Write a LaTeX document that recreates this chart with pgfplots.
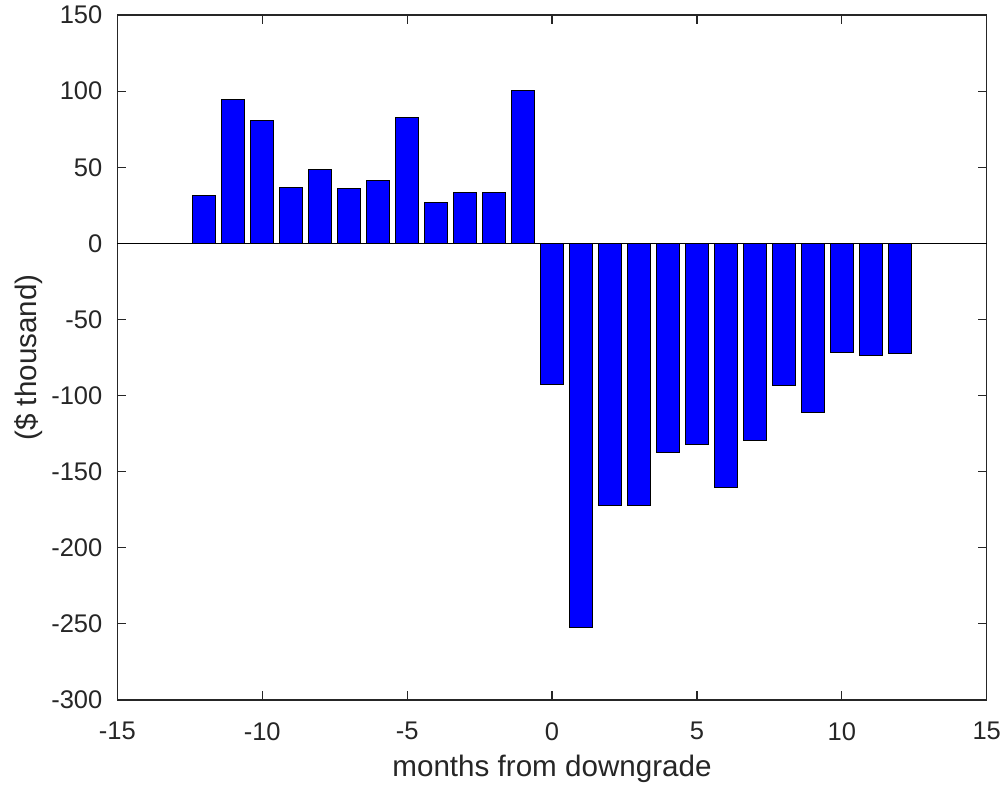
\documentclass[border=0pt]{standalone}
\usepackage{fontspec}
\setmainfont{Liberation Sans}
\usepackage{pgfplots}
\pgfplotsset{compat=1.18}
\definecolor{axgray}{RGB}{38,38,38}
\begin{document}
\fontsize{12.75}{15}\selectfont
\begin{tikzpicture}
\useasboundingbox (-58.65pt,-44pt) rectangle (444.35pt,350pt);
\begin{axis}[
  at={(0pt,0pt)}, anchor=south west,
  scale only axis,
  width=434.7pt, height=342.5pt,
  xmin=-15, xmax=15, ymin=-300, ymax=150,
  xtick={-15,-10,...,15},
  ytick={-300,-250,...,150},
  tick pos=both, tick align=inside,
  major tick length=4.5pt,
  axis line style={axgray, line width=0.6pt},
  every tick/.style={axgray, line width=0.6pt},
  tick label style={axgray, font=\fontsize{12.75}{15}\selectfont},
  /pgf/number format/assume math mode=true,
  xticklabel style={yshift=-6.75pt},
  yticklabel style={xshift=-3.05pt},
  xlabel={months from downgrade},
  ylabel={(\$ thousand)},
  label style={axgray, font=\fontsize{14.8}{17}\selectfont},
  xlabel style={at={(axis description cs:0.5,0)}, anchor=center, yshift=-34.5pt},
  ylabel style={at={(axis description cs:0,0.5)}, anchor=center, yshift=44.2pt},
  clip=false,
]
\addplot[ybar, bar width=0.8, fill={rgb,255:red,0;green,0;blue,255}, draw=black, line width=0.5pt] coordinates {
(-12,31.1) (-11,94.8) (-10,81) (-9,37) (-8,48.4) (-7,36.1) (-6,41.1) (-5,82.8) (-4,26.9) (-3,33.3) (-2,33.7) (-1,100.7)
(0,-92.6) (1,-252.5) (2,-172.1) (3,-172.3) (4,-137.3) (5,-131.9) (6,-160.5) (7,-129.2) (8,-93.7) (9,-111.3) (10,-71.9) (11,-73.6) (12,-72.3)
};
\addplot[black, line width=0.5pt] coordinates {(-15,0) (15,0)};
\end{axis}
\end{tikzpicture}
\end{document}
